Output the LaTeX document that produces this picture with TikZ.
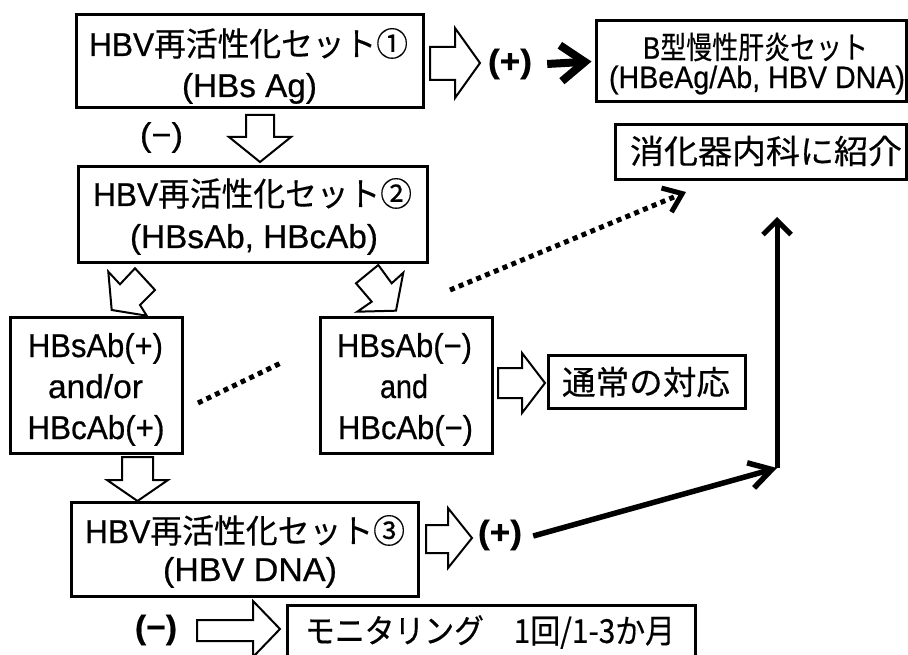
\documentclass[tikz,border=0pt]{standalone}
\usepackage{fontspec}
\usepackage{graphicx}
\setmainfont{Liberation Sans}[RawFeature={embolden=0.6}]
\newfontfamily\jp{Noto Sans CJK JP}[RawFeature={embolden=0.4}]
\usetikzlibrary{arrows.meta}
\newcommand\fitw[2]{\resizebox{#1}{\height}{#2}}
\begin{document}
\begin{tikzpicture}[x=1pt,y=-1pt,
  box/.style={draw, line width=3pt, fill=white, inner sep=0pt},
  ln/.style={inner sep=0pt, anchor=base},
  lc/.style={inner sep=0pt, anchor=center},
  blk/.style={draw, line width=2pt, fill=white, line join=miter},
  big/.style={font=\fontsize{33pt}{38pt}\selectfont},
  mid/.style={font=\fontsize{31pt}{36pt}\selectfont},
  dots/.style={line width=5pt, dash pattern=on 5pt off 4.5pt},
]
\useasboundingbox (0,0) rectangle (908,655);
\clip (0,0) rectangle (908,655);
\fill[white] (0,0) rectangle (908,655);

% coordinates for free ends
\coordinate (d1) at (198,403);
\coordinate (d2) at (283,362);
\coordinate (d3) at (450,290);
\coordinate (d4) at (686,192);
\coordinate (corner) at (777,468);
\coordinate (upend) at (777,217);

% dotted connectors
\draw[dots] (d1) -- (d2);
\draw[dots, -{Straight Barb[length=17pt,width=26pt]}] (d3) -- (d4);

% boxes
\node[box, minimum width=347pt, minimum height=93pt] (b1) at (249.5,61.5) {};
\node[box, minimum width=310pt, minimum height=81pt] (bB) at (751,61.5) {};
\node[box, minimum width=291pt, minimum height=55pt] (bS) at (760.5,152.5) {};
\node[box, minimum width=349pt, minimum height=96pt] (b2) at (252.5,215) {};
\node[box, minimum width=172pt, minimum height=136pt] (bL) at (96,385) {};
\node[box, minimum width=172pt, minimum height=136pt] (bR) at (406,385) {};
\node[box, minimum width=197pt, minimum height=53pt] (bT) at (646.5,381.5) {};
\node[box, minimum width=347pt, minimum height=94pt] (b3) at (244.5,549) {};
\node[box, minimum width=408pt, minimum height=65pt] (bM) at (491,637.5) {};

% texts
\node[ln, big] (t1a) at (248.5,56) {\fitw{319pt}{HBV\jp 再活性化セット①}};
\node[ln, big] (t1b) at (249.5,97) {\fitw{135pt}{(HBs Ag)}};
\node[lc, mid] (tBa) at (755.5,47) {\fitw{225pt}{B\jp 型慢性肝炎セット}};
\node[lc, mid] (tBb) at (757,80) {\fitw{296pt}{(HBeAg/Ab, HBV DNA)}};
\node[lc, big] (tS) at (766,151) {\fitw{272pt}{\jp 消化器内科に紹介}};
\node[ln, big] (t2a) at (252.5,206) {\fitw{319pt}{HBV\jp 再活性化セット②}};
\node[ln, big] (t2b) at (254,248) {\fitw{248pt}{(HBsAb, HBcAb)}};
\node[ln, big] (tLa) at (95.5,357) {\fitw{135pt}{HBsAb(+)}};
\node[ln, big] (tLb) at (95.5,398) {\fitw{95pt}{and/or}};
\node[ln, big] (tLc) at (96,439) {\fitw{137pt}{HBcAb(+)}};
\node[ln, big] (tRa) at (404.5,357) {\fitw{135pt}{HBsAb(−)}};
\node[ln, big] (tRb) at (404,398) {\fitw{48pt}{and}};
\node[ln, big] (tRc) at (405.5,439) {\fitw{135pt}{HBcAb(−)}};
\node[lc, big] (tT) at (646,382) {\fitw{168pt}{\jp 通常の対応}};
\node[ln, big] (t3a) at (245,543) {\fitw{320pt}{HBV\jp 再活性化セット③}};
\node[ln, big] (t3b) at (250,581) {\fitw{174pt}{(HBV DNA)}};
\node[lc, big] (tM) at (490,632) {\fitw{370pt}{\jp モニタリング　1回/1-3か月}};

% labels
\node[lc, big] (lm1) at (161.5,137.5) {\fitw{43pt}{(−)}};
\node[lc, big] (lp1) at (510,64) {\fitw{44pt}{\bfseries(+)}};
\node[lc, big] (lp3) at (500,535) {\fitw{44pt}{\bfseries(+)}};
\node[lc, big] (lm3) at (156,630) {\fitw{42pt}{\bfseries(−)}};

% block arrows
\draw[blk] (430,47) -- (455,47) -- (455,28) -- (480,63) -- (455,98) -- (455,80) -- (430,80) -- cycle;
\draw[blk] (246,115) -- (274,115) -- (274,137) -- (291,137) -- (260,162) -- (229,137) -- (246,137) -- cycle;
\draw[blk] (108.3,271.7) -- (120,284.3) -- (135,268.3) -- (155,290) -- (140,305) -- (146.7,315.7) -- (111.7,310) -- cycle;
\draw[blk] (378.3,265) -- (391.7,283.3) -- (403.3,272.7) -- (396,310.7) -- (357.3,311.7) -- (371.7,301.7) -- (356,283.3) -- cycle;
\draw[blk] (122,457) -- (153,457) -- (153,480) -- (168,480) -- (137.5,501) -- (107,480) -- (122,480) -- cycle;
\draw[blk] (498,368) -- (522,368) -- (522,353) -- (545,383) -- (522,413) -- (522,398) -- (498,398) -- cycle;
\draw[blk] (426,525) -- (448,525) -- (448,508) -- (472,538) -- (448,568) -- (448,553) -- (426,553) -- cycle;
\draw[blk] (197,620) -- (253,620) -- (253,601) -- (280,629) -- (253,657) -- (253,641) -- (197,641) -- cycle;

% line connectors
\draw[line width=8pt, -{Straight Barb[length=24pt,width=36pt]}] ([xshift=15pt]lp1.east) -- ([xshift=-3pt]bB.west);
\draw[line width=5.5pt, -{Straight Barb[length=22pt,width=26pt]}] ([xshift=11pt,yshift=-1pt]lp3.east) -- (corner);
\draw[line width=5pt, -{Straight Barb[length=14pt,width=28pt]}] (corner) -- (upend);
\end{tikzpicture}
\end{document}
